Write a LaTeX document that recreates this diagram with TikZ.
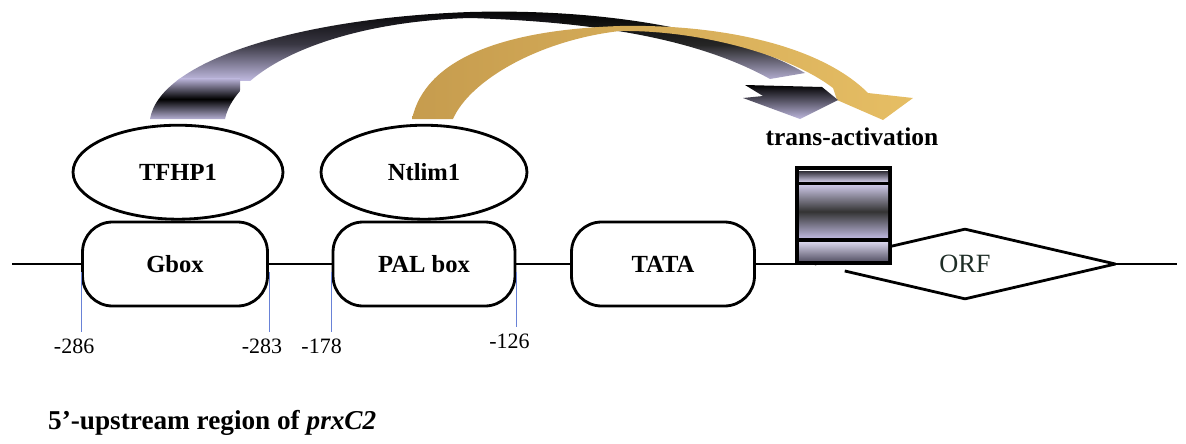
\documentclass[tikz,border=0pt]{standalone}
\usepackage{fontspec}
\setmainfont{Liberation Serif}
\usepackage{tikz}
\usetikzlibrary{shapes,arrows,positioning,calc}
\definecolor{lavender}{RGB}{190,184,222}
\definecolor{goldarrow}{RGB}{198,156,78}
\definecolor{goldlight}{RGB}{230,190,100}
\definecolor{tickblue}{RGB}{105,130,215}
\definecolor{orftext}{RGB}{30,45,38}

\tikzset{
  dna/.style={line width=0.9pt},
  cisbox/.style={draw, line width=1.6pt, rounded corners=0.6cm, fill=white,
    minimum width=3.7cm, minimum height=1.68cm, inner sep=0pt,
    font=\fontsize{14}{16}\selectfont\bfseries},
  factor/.style={ellipse, draw, line width=1.6pt, fill=white, inner sep=0pt,
    minimum width=4.2cm, minimum height=1.88cm,
    font=\fontsize{14}{16}\selectfont\bfseries},
  tick/.style={tickblue, line width=0.4pt},
  coordlabel/.style={below, inner sep=1pt, xshift=-0.14cm, yshift=-0.1cm,
    text=black, font=\fontsize{12.5}{14}\selectfont},
}

\begin{document}
\begin{tikzpicture}[x=0.02cm, y=-0.02cm]
\useasboundingbox (0,0) rectangle (1186,443);

% promoter boxes
\node[cisbox] (gbox) at (175,264) {Gbox};
\node[cisbox, minimum width=3.64cm] (palbox) at (424,264) {PAL box};
\node[cisbox, minimum width=3.66cm] (tata) at (663,264) {TATA};

% bound factors
\node[factor, above=0pt of gbox, xshift=0.06cm] (tfhp) {TFHP1};
\node[factor, above=0pt of palbox, minimum width=4.12cm] (ntlim) {Ntlim1};

% ORF, west tip hidden behind the box
\node[diamond, aspect=4, inner sep=0pt, minimum width=6cm, minimum height=1.38cm,
  font=\fontsize{15}{17}\selectfont, text=orftext] (orf) at (965,264) {ORF};
\draw[line width=1.6pt, line join=round] ($(orf.west)!0.2!(orf.south)$) -- (orf.south)
  -- (orf.east) -- (orf.north) -- (orf.west);

% striped element
\node[draw, line width=2pt, fill=white, inner sep=0pt, minimum width=1.86cm,
  minimum height=1.9cm] (enh) at (843.5,215.5) {};
\shade[top color=black!75!lavender, bottom color=lavender!70!white] (799,171) rectangle (888,182);
\shade[top color=lavender!80!white, bottom color=lavender, middle color=black!80] (799,185) rectangle (888,238);
\shade[top color=lavender!60!white, bottom color=black!50!lavender] (799,242) rectangle (888,260);
\draw[line width=2pt] (797,183.5) -- (890,183.5);
\draw[line width=2pt] (797,240) -- (890,240);
\node[font=\fontsize{14.5}{17}\selectfont\bfseries, above=0.28cm of enh, xshift=0.17cm] (transact) {trans-activation};

% strand
\coordinate (lstart) at (12,264);
\coordinate (lend) at (1177,264);
\draw[dna] (lstart) -- (gbox);
\draw[dna] (gbox) -- (palbox);
\draw[dna] (palbox) -- (tata);
\draw[dna] (tata) -- (tata -| enh.west);
\draw[dna] (orf.east) -- (lend);

% positions
\draw[tick] (gbox.west) ++(0,8) -- ++(0,60) node[coordlabel] {-286};
\draw[tick] (gbox.east) ++(0,8) -- ++(0,60) node[coordlabel] {-283};
\draw[tick] (palbox.west) ++(0,8) -- ++(0,60) node[coordlabel, xshift=-0.06cm] {-178};
\draw[tick] (palbox.east) ++(0,8) -- ++(0,55) node[coordlabel] {-126};

% dark arrow from TFHP1
\begin{scope}
\clip (150,119) .. controls (160,60) and (300,18) .. (470,12)
  .. controls (620,8) and (740,35) .. (805,73) -- (770,79)
  .. controls (700,40) and (600,22) .. (470,18)
  .. controls (330,22) and (235,70) .. (225,119) -- cycle;
\shade[top color=black, bottom color=lavender, middle color=black!70!lavender] (140,8) rectangle (560,80);
\shade[top color=black, bottom color=lavender, middle color=black!85] (560,8) rectangle (810,82);
\shade[top color=lavender, bottom color=lavender, middle color=black] (140,78) rectangle (240,120);
\end{scope}

% gold arrow from Ntlim1
\shade[left color=goldarrow, right color=goldlight] (412,119)
  .. controls (425,60) and (500,30) .. (620,26)
  .. controls (720,24) and (820,45) .. (868,93) -- (913,98) -- (883,120) -- (837,100) -- (833,88)
  .. controls (790,55) and (700,30) .. (620,31)
  .. controls (540,40) and (470,80) .. (453,119) -- cycle;

% dark arrow head
\shade[top color=black, bottom color=lavender] (745,85) -- (822,87) -- (838,100)
  -- (800,119) -- (743,98) -- (763,96) -- cycle;

% caption
\node[anchor=west, font=\fontsize{15.5}{18}\selectfont\bfseries] (caption) at (42,423)
  {5'-upstream region of \textit{prxC2}};
\end{tikzpicture}
\end{document}
